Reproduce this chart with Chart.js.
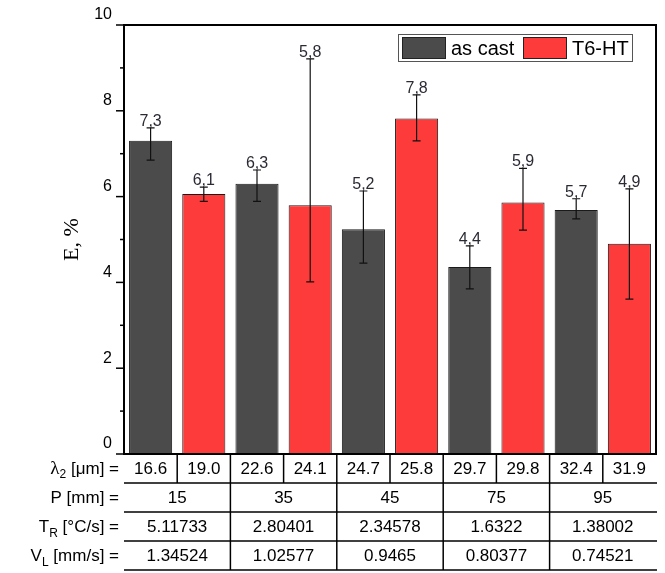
<!DOCTYPE html>
<html>
<head>
<meta charset="utf-8">
<style>
  html, body { margin: 0; padding: 0; background: #fff; }
  #wrap { width: 665px; height: 573px; }
</style>
<script src="https://cdn.jsdelivr.net/npm/chart.js@4.4.1/dist/chart.umd.min.js"></script>
</head>
<body>
<div id="wrap"><canvas id="myChart"></canvas></div>
<script>
// categories = λ2 values under each bar
const lambda2 = ["16.6", "19.0", "22.6", "24.1", "24.7", "25.8", "29.7", "29.8", "32.4", "31.9"];

// E, % per series (as cast on even slots, T6-HT on odd slots)
const asCast = [7.3, 6.3, 5.24, 4.36, 5.69];
const asCastErrUp = [0.3, 0.32, 0.89, 0.49, 0.26];
const asCastErrDown = [0.45, 0.41, 0.79, 0.51, 0.21];

const t6ht = [6.06, 5.8, 7.82, 5.86, 4.9];
const t6htErrUp = [0.16, 3.41, 0.55, 0.8, 1.28];
const t6htErrDown = [0.17, 1.79, 0.52, 0.64, 1.29];

// grouped rows of the table
const pMm = ["15", "35", "45", "75", "95"];
const tR = ["5.11733", "2.80401", "2.34578", "1.6322", "1.38002"];
const vL = ["1.34524", "1.02577", "0.9465", "0.80377", "0.74521"];

const yTicks = [0, 2, 4, 6, 8, 10];

const SANS = 'Arial, "Liberation Sans", sans-serif';
const SERIF = '"Liberation Serif", "Times New Roman", serif';

// spread a 5-value series onto the 10 slots
const spread = (arr, odd) => lambda2.map((_, i) => (i % 2 === (odd ? 1 : 0) ? arr[(i - (odd ? 1 : 0)) / 2] : null));

const decor = {
  id: "decor",
  afterDatasetsDraw(chart) {
    const { ctx } = chart;
    const x = chart.scales.x;
    const y = chart.scales.y;
    chart.data.datasets.forEach((ds) => {
      ds.data.forEach((v, i) => {
        if (v == null) return;
        const cx = x.getPixelForValue(i);
        const top = y.getPixelForValue(v + ds.errUp[i]);
        const bot = y.getPixelForValue(v - ds.errDown[i]);
        ctx.save();
        ctx.strokeStyle = "#111";
        ctx.lineWidth = 1.2;
        ctx.beginPath();
        ctx.moveTo(cx, top);
        ctx.lineTo(cx, bot);
        ctx.moveTo(cx - 4, top);
        ctx.lineTo(cx + 4, top);
        ctx.moveTo(cx - 4, bot);
        ctx.lineTo(cx + 4, bot);
        ctx.stroke();
        ctx.fillStyle = "#2b2b35";
        ctx.font = "16px " + SANS;
        ctx.textAlign = "center";
        ctx.textBaseline = "alphabetic";
        ctx.fillText(v.toFixed(1).replace(".", ","), cx, top - 2);
        ctx.restore();
      });
    });
  },
  afterDraw(chart) {
    const { ctx, chartArea: a } = chart;
    const x = chart.scales.x;
    const y = chart.scales.y;
    ctx.save();

    // frame: left, top, right
    ctx.strokeStyle = "#000";
    ctx.lineWidth = 2;
    ctx.beginPath();
    ctx.moveTo(a.left, a.bottom);
    ctx.lineTo(a.left, a.top);
    ctx.lineTo(a.right, a.top);
    ctx.lineTo(a.right, a.bottom);
    ctx.stroke();

    // y ticks, major on labelled values, minor between
    ctx.lineWidth = 1.5;
    y.ticks.forEach((t) => {
      const py = y.getPixelForValue(t.value);
      const len = yTicks.includes(t.value) ? 8 : 4;
      ctx.beginPath();
      ctx.moveTo(a.left - len, py);
      ctx.lineTo(a.left, py);
      ctx.stroke();
    });

    // table under the plot
    const rowH = 29;
    const n = lambda2.length;
    const bound = (k) => (k === 0 ? a.left : k === n ? a.right : (x.getPixelForValue(k - 1) + x.getPixelForValue(k)) / 2);
    ctx.lineWidth = 2;
    ctx.beginPath();
    ctx.moveTo(a.left - 1, a.bottom);
    ctx.lineTo(a.right + 1, a.bottom);
    ctx.stroke();
    ctx.lineWidth = 1.5;
    for (let r = 1; r <= 4; r++) {
      ctx.beginPath();
      ctx.moveTo(a.left, a.bottom + rowH * r);
      ctx.lineTo(a.right + 1, a.bottom + rowH * r);
      ctx.stroke();
    }
    for (let k = 1; k < n; k++) {
      const bx = bound(k);
      ctx.beginPath();
      ctx.moveTo(bx, a.bottom);
      ctx.lineTo(bx, a.bottom + rowH * (k % 2 === 0 ? 4 : 1));
      ctx.stroke();
    }

    ctx.fillStyle = "#000";
    ctx.font = "17px " + SANS;
    ctx.textAlign = "center";
    ctx.textBaseline = "middle";
    lambda2.forEach((s, i) => ctx.fillText(s, x.getPixelForValue(i), a.bottom + rowH * 0.5 + 1));
    [pMm, tR, vL].forEach((row, r) => {
      row.forEach((s, g) => {
        const gx = (x.getPixelForValue(2 * g) + x.getPixelForValue(2 * g + 1)) / 2;
        ctx.fillText(s, gx, a.bottom + rowH * (r + 1.5) + 1);
      });
    });

    // row labels with subscripts
    const rowLabels = [
      [["λ", "19px " + SERIF, 0], ["2", "12px " + SANS, 5], [" [μm] =", "17px " + SANS, 0]],
      [["P [mm] =", "17px " + SANS, 0]],
      [["T", "17px " + SANS, 0], ["R", "12px " + SANS, 6], [" [°C/s] =", "17px " + SANS, 0]],
      [["V", "17px " + SANS, 0], ["L", "12px " + SANS, 6], [" [mm/s] =", "17px " + SANS, 0]],
    ];
    ctx.textAlign = "left";
    rowLabels.forEach((parts, r) => {
      let w = 0;
      parts.forEach(([t, f]) => { ctx.font = f; w += ctx.measureText(t).width; });
      let px = a.left - 5 - w;
      const py = a.bottom + rowH * (r + 0.5) + 1;
      parts.forEach(([t, f, dy]) => {
        ctx.font = f;
        ctx.fillText(t, px, py + dy);
        px += ctx.measureText(t).width;
      });
    });

    // legend box
    ctx.fillStyle = "#fff";
    ctx.fillRect(398, 34, 235, 28);
    ctx.strokeStyle = "#555";
    ctx.lineWidth = 1;
    ctx.strokeRect(398.5, 34.5, 234, 27);
    const items = [[402, 451], [523, 572]];
    chart.data.datasets.forEach((ds, di) => {
      const [sx, tx] = items[di];
      ctx.fillStyle = ds.backgroundColor;
      ctx.fillRect(sx, 37, 44, 22);
      ctx.strokeStyle = "#222";
      ctx.strokeRect(sx + 0.5, 37.5, 43, 21);
      ctx.fillStyle = "#000";
      ctx.font = "20px " + SANS;
      ctx.textBaseline = "middle";
      ctx.fillText(ds.label, tx, 49);
    });
    ctx.restore();
  },
};

new Chart(document.getElementById("myChart"), {
  type: "bar",
  data: {
    labels: lambda2,
    datasets: [
      {
        label: "as cast",
        data: spread(asCast, false),
        errUp: spread(asCastErrUp, false),
        errDown: spread(asCastErrDown, false),
        backgroundColor: "#4b4b4b",
        borderColor: "#1a1a1a",
        borderWidth: 1,
        borderSkipped: false,
      },
      {
        label: "T6-HT",
        data: spread(t6ht, true),
        errUp: spread(t6htErrUp, true),
        errDown: spread(t6htErrDown, true),
        backgroundColor: "#fe3b3b",
        borderColor: "#1a1a1a",
        borderWidth: 1,
        borderSkipped: false,
      },
    ],
  },
  options: {
    responsive: true,
    maintainAspectRatio: false,
    animation: false,
    categoryPercentage: 1,
    barPercentage: 0.81,
    layout: { padding: { top: 25, right: 9, bottom: 119, left: 0 } },
    plugins: { legend: { display: false }, tooltip: { enabled: false } },
    scales: {
      x: { display: false, stacked: true, offset: true },
      y: {
        min: 0,
        max: 10,
        afterFit(s) { s.width = 124; },
        grid: { display: false },
        border: { display: false },
        ticks: {
          stepSize: 1,
          autoSkip: false,
          padding: 4,
          labelOffset: -10,
          color: "#000",
          font: { family: SANS, size: 16 },
          callback: (v) => (yTicks.includes(v) ? v : ""),
        },
        title: {
          display: true,
          text: "E, %",
          color: "#000",
          font: { family: SERIF, size: 22 },
          padding: { top: 59, bottom: 0 },
        },
      },
    },
  },
  plugins: [decor],
});
</script>
</body>
</html>
